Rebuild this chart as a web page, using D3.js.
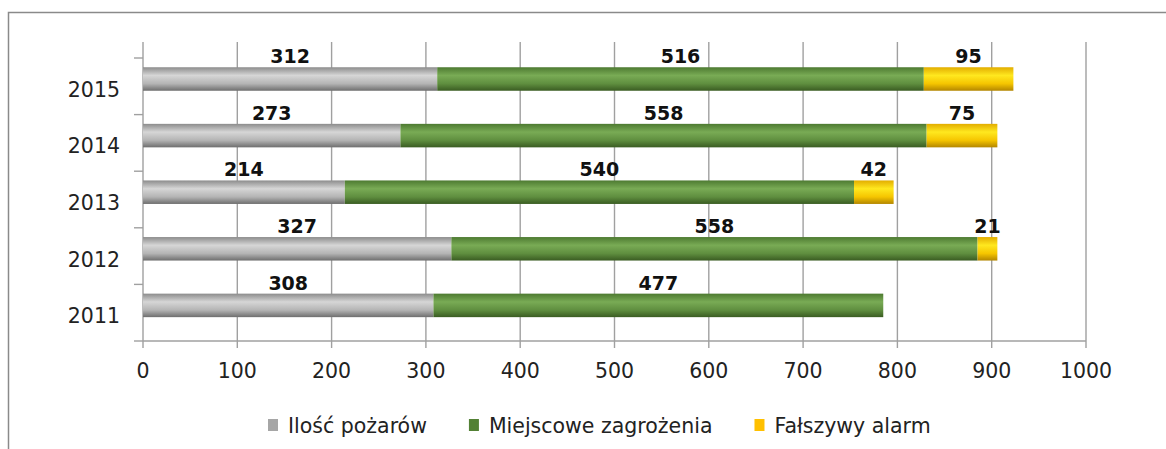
<!DOCTYPE html>
<html>
<head>
<meta charset="utf-8">
<script src="https://cdn.jsdelivr.net/npm/d3@7"></script>
<style>
  body { margin: 0; background: #fff; }
  text { font-family: "DejaVu Sans", sans-serif; fill: #222; }
</style>
</head>
<body>
<script>
// data
const years = ['2011', '2012', '2013', '2014', '2015'];
const fires = [308, 327, 214, 273, 312];
const local = [477, 558, 540, 558, 516];
const falseAlarm = [0, 21, 42, 75, 95];
const seriesNames = ['Ilość pożarów', 'Miejscowe zagrożenia', 'Fałszywy alarm'];
const xTicks = [0, 100, 200, 300, 400, 500, 600, 700, 800, 900, 1000];

const width = 1166, height = 449;
const margin = { top: 58, bottom: 108, left: 143, right: 80 };
const gridTop = 42;

const svg = d3.select('body').append('svg')
  .attr('width', width).attr('height', height);

// chart border (top + left visible)
svg.append('path')
  .attr('d', `M8.5,${height} V12.5 H${width}`)
  .attr('fill', 'none').attr('stroke', '#8a8a8a').attr('stroke-width', 1.5);

const table = years.map((y, i) => ({ year: y, vals: [fires[i], local[i], falseAlarm[i]] }));
const stacked = d3.stack().keys([0, 1, 2]).value((d, k) => d.vals[k])(table);

const xscale = d3.scaleLinear().domain([0, 1000]).range([margin.left, width - margin.right]);
const yscale = d3.scaleBand()
  .domain(years.slice().reverse())
  .range([margin.top, height - margin.bottom]);

const plotBottom = height - margin.bottom;

// gradients
const defs = svg.append('defs');
const grads = [
  ['#8c8c8c', '#d6d6d6', '#b4b4b4', '#6e6e6e'],
  ['#4d7a31', '#79ab55', '#5f8e3f', '#3a5c22'],
  ['#e2ad00', '#ffe81f', '#f5c500', '#b38600']
];
grads.forEach((c, i) => {
  const g = defs.append('linearGradient').attr('id', 'g' + i)
    .attr('x1', 0).attr('x2', 0).attr('y1', 0).attr('y2', 1);
  g.append('stop').attr('offset', '0%').attr('stop-color', c[0]);
  g.append('stop').attr('offset', '35%').attr('stop-color', c[1]);
  g.append('stop').attr('offset', '70%').attr('stop-color', c[2]);
  g.append('stop').attr('offset', '100%').attr('stop-color', c[3]);
});

// vertical gridlines
svg.append('g').selectAll('line')
  .data(xTicks).enter().append('line')
  .attr('x1', d => xscale(d)).attr('x2', d => xscale(d))
  .attr('y1', gridTop).attr('y2', plotBottom + 7)
  .attr('stroke', '#a0a0a0').attr('stroke-width', 1.4);

// bottom axis line
svg.append('line')
  .attr('x1', xscale(0)).attr('x2', xscale(1000))
  .attr('y1', plotBottom).attr('y2', plotBottom)
  .attr('stroke', '#a0a0a0').attr('stroke-width', 1.4);

// left axis ticks
const bounds = years.map(y => yscale(y)).concat([plotBottom]);
svg.append('g').selectAll('line')
  .data(bounds).enter().append('line')
  .attr('x1', xscale(0) - 9).attr('x2', xscale(0))
  .attr('y1', d => d).attr('y2', d => d)
  .attr('stroke', '#a0a0a0').attr('stroke-width', 1.4);

// x labels
svg.append('g').selectAll('text')
  .data(xTicks).enter().append('text')
  .attr('x', d => xscale(d)).attr('y', 378)
  .attr('text-anchor', 'middle').style('font-size', '20.5px')
  .text(d => d);

// y labels
svg.append('g').selectAll('text')
  .data(years).enter().append('text')
  .attr('x', 120)
  .attr('y', d => yscale(d) + yscale.bandwidth() / 2 + 10.5)
  .attr('text-anchor', 'end').style('font-size', '20.5px')
  .text(d => d);

// bars
const barH = 23.5;
const barY = d => yscale(d.data.year) + yscale.bandwidth() / 2 - 7.3 - barH / 2;

stacked.forEach((layer, i) => {
  svg.append('g').selectAll('rect')
    .data(layer.filter(d => d[1] > d[0])).enter().append('rect')
    .attr('x', d => xscale(d[0]))
    .attr('y', barY)
    .attr('width', d => xscale(d[1]) - xscale(d[0]))
    .attr('height', barH)
    .attr('fill', `url(#g${i})`);
});

stacked.forEach(layer => {
  svg.append('g').selectAll('text')
    .data(layer.filter(d => d[1] > d[0])).enter().append('text')
    .attr('x', d => (xscale(d[0]) + xscale(d[1])) / 2)
    .attr('y', d => barY(d) - 4)
    .attr('text-anchor', 'middle')
    .style('font-size', '19px').style('font-weight', 'bold').style('fill', '#111')
    .text(d => d[1] - d[0]);
});

// legend
const legendColors = ['#a6a6a6', '#538135', '#ffc000'];
const legend = svg.append('g');
let lx = 268;
seriesNames.forEach((name, i) => {
  legend.append('rect')
    .attr('x', lx).attr('y', 419).attr('width', 10).attr('height', 12)
    .attr('fill', legendColors[i]);
  const t = legend.append('text')
    .attr('x', lx + 20).attr('y', 433)
    .style('font-size', '20.5px')
    .text(name);
  lx += 20 + t.node().getComputedTextLength() + 42;
});
</script>
</body>
</html>
